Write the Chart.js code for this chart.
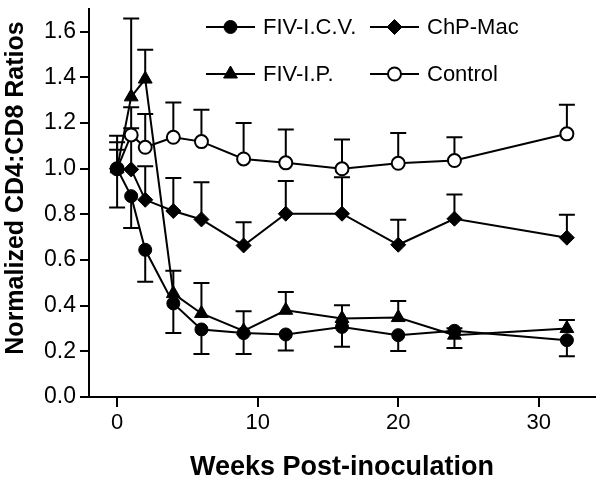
<!DOCTYPE html>
<html>
<head>
<meta charset="utf-8">
<script src="https://cdn.jsdelivr.net/npm/chart.js@4.4.1/dist/chart.umd.min.js"></script>
<style>
  body { margin: 0; background: #fff; }
</style>
</head>
<body>
<canvas id="chart" width="604" height="484"></canvas>
<script>
// weeks post-inoculation
const weeks = [0, 1, 2, 4, 6, 9, 12, 16, 20, 24, 32];

const icvValues = [1.0, 0.88, 0.645, 0.41, 0.296, 0.28, 0.274, 0.307, 0.271, 0.29, 0.249];
const icvErrDown = [0.17, 0.14, 0.14, 0.13, 0.108, 0.092, 0.07, 0.087, 0.07, 0.075, 0.07];

const chpValues = [1.0, 0.997, 0.864, 0.815, 0.778, 0.664, 0.803, 0.803, 0.667, 0.781, 0.698];
const chpErrUp = [0.083, 0.18, 0.147, 0.144, 0.163, 0.102, 0.143, 0.16, 0.11, 0.106, 0.10];

const ipValues = [1.0, 1.315, 1.393, 0.453, 0.366, 0.29, 0.38, 0.344, 0.348, 0.271, 0.30];
const ipErrUp = [0.116, 0.343, 0.128, 0.10, 0.134, 0.086, 0.08, 0.058, 0.073, 0.03, 0.037];

const controlValues = [1.0, 1.148, 1.094, 1.138, 1.119, 1.043, 1.026, 1.0, 1.024, 1.036, 1.153];
const controlErrUp = [0.145, 0.121, 0.146, 0.152, 0.14, 0.157, 0.146, 0.128, 0.133, 0.102, 0.128];

const xTicks = [0, 10, 20, 30];
const yTicks = [0, 0.2, 0.4, 0.6, 0.8, 1.0, 1.2, 1.4, 1.6];

const FONT = '"Liberation Sans", Arial, sans-serif';

function toPoints(values) {
  return values.map((v, i) => ({ x: weeks[i], y: v }));
}

function series(label, values, style, radius, fill, errUp, errDown) {
  return {
    label: label,
    data: toPoints(values),
    errUp: errUp,
    errDown: errDown,
    borderColor: "#000",
    borderWidth: 2,
    pointStyle: style,
    pointRadius: radius,
    pointHoverRadius: radius,
    pointBackgroundColor: fill,
    pointBorderColor: "#000",
    pointBorderWidth: fill === "#fff" ? 2 : 1,
    fill: false,
    tension: 0
  };
}

// error bars, drawn under the lines and markers
const errorBars = {
  id: "errorBars",
  beforeDatasetsDraw(chart) {
    const ctx = chart.ctx;
    const x = chart.scales.x, y = chart.scales.y;
    ctx.save();
    ctx.strokeStyle = "#000";
    ctx.lineWidth = 2;
    chart.data.datasets.forEach(ds => {
      ds.data.forEach((p, i) => {
        const px = x.getPixelForValue(p.x);
        const py = y.getPixelForValue(p.y);
        const ends = [];
        if (ds.errUp && ds.errUp[i]) ends.push(y.getPixelForValue(p.y + ds.errUp[i]));
        if (ds.errDown && ds.errDown[i]) ends.push(y.getPixelForValue(p.y - ds.errDown[i]));
        ends.forEach(ey => {
          ctx.beginPath();
          ctx.moveTo(px, py);
          ctx.lineTo(px, ey);
          ctx.moveTo(px - 8, ey);
          ctx.lineTo(px + 8, ey);
          ctx.stroke();
        });
      });
    });
    ctx.restore();
  }
};

// 2x2 legend in the top of the plot, plus the rotated y title
const legendAndTitle = {
  id: "legendAndTitle",
  afterDraw(chart) {
    const ctx = chart.ctx;
    const cols = [206, 370];
    const rows = [27, 74];
    ctx.save();
    chart.data.datasets.forEach((ds, i) => {
      const lx = cols[i % 2];
      const ly = rows[Math.floor(i / 2)];
      ctx.strokeStyle = "#000";
      ctx.lineWidth = 2;
      ctx.beginPath();
      ctx.moveTo(lx, ly);
      ctx.lineTo(lx + 49, ly);
      ctx.stroke();
      ctx.fillStyle = ds.pointBackgroundColor;
      ctx.lineWidth = ds.pointBorderWidth;
      Chart.helpers.drawPoint(ctx, {
        pointStyle: ds.pointStyle,
        radius: ds.pointRadius,
        rotation: 0,
        borderWidth: ds.pointBorderWidth
      }, lx + 24.5, ly);
      ctx.fillStyle = "#000";
      ctx.font = "22px " + FONT;
      ctx.textAlign = "left";
      ctx.textBaseline = "middle";
      ctx.fillText(ds.label, lx + 57, ly + 1);
    });

    ctx.translate(16, 188);
    ctx.rotate(-Math.PI / 2);
    ctx.font = "bold 25px " + FONT;
    ctx.textAlign = "center";
    ctx.textBaseline = "middle";
    ctx.fillText("Normalized CD4:CD8 Ratios", 0, 0);
    ctx.restore();
  }
};

new Chart(document.getElementById("chart").getContext("2d"), {
  type: "line",
  data: {
    datasets: [
      series("FIV-I.C.V.", icvValues, "circle", 6.5, "#000", null, icvErrDown),
      series("ChP-Mac", chpValues, "rectRot", 7.5, "#000", chpErrUp, null),
      series("FIV-I.P.", ipValues, "triangle", 8, "#000", ipErrUp, null),
      series("Control", controlValues, "circle", 6.5, "#fff", controlErrUp, null)
    ]
  },
  options: {
    responsive: false,
    animation: false,
    events: [],
    layout: { padding: { top: 7, right: 7, left: 0, bottom: 0 } },
    plugins: {
      legend: { display: false },
      tooltip: { enabled: false }
    },
    scales: {
      x: {
        type: "linear",
        min: -2,
        max: 34,
        afterBuildTicks: scale => { scale.ticks = xTicks.map(v => ({ value: v })); },
        afterFit: scale => {
          scale.height = 87;
          scale.paddingLeft = 0;
          scale.paddingRight = 0;
        },
        ticks: {
          color: "#000",
          font: { family: FONT, size: 22 },
          padding: 3,
          maxRotation: 0
        },
        grid: {
          drawOnChartArea: false,
          drawTicks: true,
          tickLength: 10,
          color: "#000",
          lineWidth: 2
        },
        border: { display: true, color: "#000", width: 2 },
        title: {
          display: true,
          text: "Weeks Post-inoculation",
          color: "#000",
          font: { family: FONT, size: 27, weight: "bold" },
          padding: { top: 0, bottom: 0 }
        }
      },
      y: {
        type: "linear",
        min: 0,
        max: 1.7,
        afterBuildTicks: scale => { scale.ticks = yTicks.map(v => ({ value: v })); },
        afterFit: scale => {
          scale.width = 89;
          scale.paddingTop = 0;
          scale.paddingBottom = 0;
        },
        ticks: {
          color: "#000",
          font: { family: FONT, size: 23 },
          padding: 4,
          callback: v => v.toFixed(1)
        },
        grid: {
          drawOnChartArea: false,
          drawTicks: true,
          tickLength: 9,
          color: "#000",
          lineWidth: 2
        },
        border: { display: true, color: "#000", width: 2 }
      }
    }
  },
  plugins: [errorBars, legendAndTitle]
});
</script>
</body>
</html>
